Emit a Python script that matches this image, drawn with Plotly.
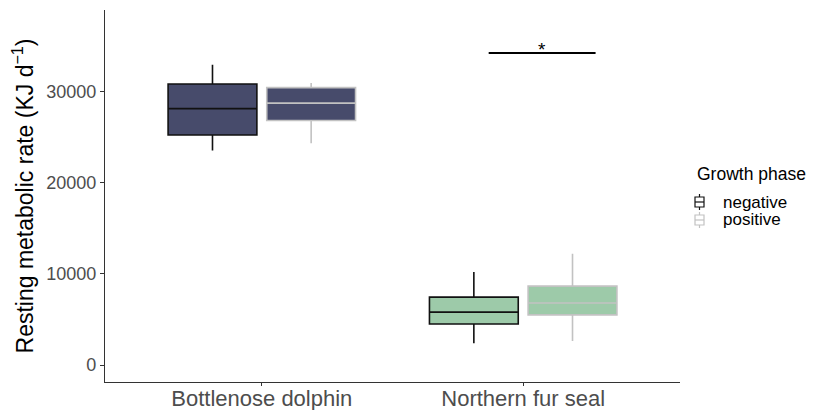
import plotly.graph_objects as go

species = ["Bottlenose dolphin", "Northern fur seal"]
phases = ["negative", "positive"]

# summary stats per phase, per species (order of species list)
lower = {"negative": [23500, 2400], "positive": [24300, 2650]}
q1 = {"negative": [25200, 4500], "positive": [26800, 5500]}
median = {"negative": [28100, 5800], "positive": [28700, 6800]}
q3 = {"negative": [30800, 7450], "positive": [30400, 8650]}
upper = {"negative": [32900, 10200], "positive": [30900, 12200]}

species_fill = ["#474B6B", "#9DCAA9"]
phase_line = {"negative": "#111111", "positive": "#C2C2C2"}

sig_x = [0.868, 1.277]
sig_y = 34200
sig_label = "*"

legend_title = "Growth phase"

# the page body adds an 8px margin; lay out in window pixels, shifted by it
OFF = 8
W, H = 816 - OFF, 410 - OFF
ML, MT = 105 - OFF, 10 - OFF
PR, PB = 680 - OFF, 382 - OFF
MR, MB = W - PR, H - PB
PW, PH = PR - ML, PB - MT


def px(xp):
    return (xp - OFF - ML) / PW


def py(yp):
    return (PB - (yp - OFF)) / PH


fig = go.Figure()
for ph in phases:
    for i, sp in enumerate(species):
        fig.add_trace(go.Box(
            x=[sp], q1=[q1[ph][i]], median=[median[ph][i]], q3=[q3[ph][i]],
            lowerfence=[lower[ph][i]], upperfence=[upper[ph][i]],
            fillcolor=species_fill[i], line=dict(color=phase_line[ph], width=1.6),
            whiskerwidth=0, offsetgroup=ph, name=ph, showlegend=False,
            hoverinfo="skip",
        ))

fig.add_shape(type="line", xref="x", yref="y", x0=sig_x[0], x1=sig_x[1],
              y0=sig_y, y1=sig_y, line=dict(color="black", width=2))
fig.add_annotation(x=(sig_x[0] + sig_x[1]) / 2, y=sig_y, text=sig_label,
                   showarrow=False, yshift=3, font=dict(size=19, color="black"))

# manual legend (ggplot style)
fig.add_annotation(xref="paper", yref="paper", x=px(695), y=py(174),
                   xanchor="left", yanchor="middle", text=legend_title,
                   showarrow=False, font=dict(size=17.5, color="black"))
for k, ph in enumerate(phases):
    cy = 202 + 18 * k
    col = phase_line[ph]
    fig.add_shape(type="line", xref="paper", yref="paper",
                  x0=px(699.5), x1=px(699.5), y0=py(cy - 8), y1=py(cy + 8),
                  line=dict(color=col, width=1.2))
    fig.add_shape(type="rect", xref="paper", yref="paper",
                  x0=px(695), x1=px(704), y0=py(cy - 5), y1=py(cy + 5),
                  fillcolor="white", line=dict(color=col, width=1.2))
    fig.add_shape(type="line", xref="paper", yref="paper",
                  x0=px(695), x1=px(704), y0=py(cy), y1=py(cy),
                  line=dict(color=col, width=1.2))
    fig.add_annotation(xref="paper", yref="paper", x=px(721), y=py(cy),
                       xanchor="left", yanchor="middle", text=ph,
                       showarrow=False, font=dict(size=17, color="black"))

fig.update_layout(
    width=W, height=H,
    margin=dict(l=ML, r=MR, t=MT, b=MB, autoexpand=False),
    paper_bgcolor="white", plot_bgcolor="white",
    font=dict(family="Liberation Sans, Arial, sans-serif"),
    boxmode="group", boxgap=0.245, boxgroupgap=0.1,
    showlegend=False,
    xaxis=dict(
        type="category", categoryorder="array", categoryarray=species,
        range=[-0.6, 1.6], showline=True, linecolor="#333333", linewidth=1.2,
        ticks="outside", ticklen=3, tickcolor="#333333", automargin=False,
        ticklabelstandoff=-7,
        tickfont=dict(size=22, color="#4D4D4D"), showgrid=False, zeroline=False,
    ),
    yaxis=dict(
        range=[-1850, 38900], tickvals=[0, 10000, 20000, 30000],
        ticktext=["0", "10000", "20000", "30000"],
        showline=True, linecolor="#333333", linewidth=1.2, automargin=False,
        ticks="outside", ticklen=4, tickcolor="#333333",
        tickfont=dict(size=18, color="#4D4D4D"), showgrid=False, zeroline=False,
        title=dict(text="Resting metabolic rate (KJ d<sup>\u22121</sup>)",
                   font=dict(size=23, color="black"), standoff=6),
    ),
)

fig.write_html("out.html")
